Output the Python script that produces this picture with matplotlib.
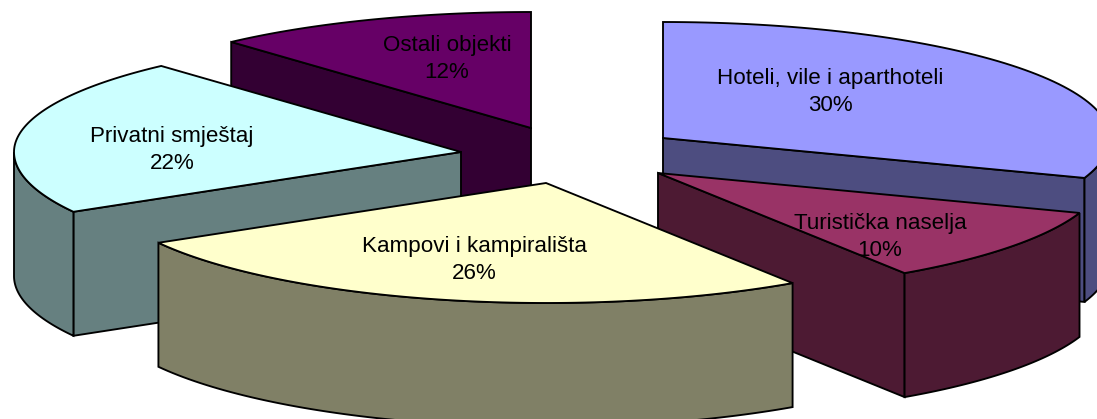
import numpy as np
import matplotlib
matplotlib.use("Agg")
import matplotlib.pyplot as plt
from matplotlib.patches import Polygon

plt.rcParams['font.family'] = ['Liberation Sans', 'DejaVu Sans']

labels = ['Hoteli, vile i aparthoteli', 'Turistička naselja', 'Kampovi i kampirališta',
          'Privatni smještaj', 'Ostali objekti']
shares = [30.4, 10.3, 26.0, 21.6, 11.7]

top_colors = ['#9999FF', '#993366', '#FFFFCC', '#CCFFFF', '#660066']
side_colors = ['#4D4D80', '#4D1A33', '#808066', '#668080', '#330033']

# where each exploded slice has its tip, in pixels
tips = [(663, 138), (658, 173), (546, 183), (461, 152), (531, 128)]
label_pos = [(830, 92), (880, 237), (474, 260), (172, 150), (447, 59)]
draw_order = [4, 0, 3, 1, 2]

RX = 447
RY_BACK, RY_FRONT = 116, 120  # near half of the ellipse looks a bit taller
DEPTH = 124


def rim(tip, a0, a1, n=80):
    t = np.radians(np.linspace(a0, a1, n))
    ry = np.where(np.cos(t) > 0, RY_BACK, RY_FRONT)
    return np.column_stack([tip[0] + RX * np.sin(t), tip[1] - ry * np.cos(t)])


def wall(ax, pts, color):
    low = pts[::-1] + [0, DEPTH]
    ax.add_patch(Polygon(np.vstack([pts, low]), closed=True, fc=color, ec='black', lw=1.35, joinstyle='miter'))


fig = plt.figure(figsize=(10.97, 4.19), dpi=100)
ax = fig.add_axes([0, 0, 1, 1])
ax.set_xlim(0, 1097)
ax.set_ylim(419, 0)
ax.axis('off')

ends = np.cumsum(shares) / np.sum(shares) * 360
starts = np.concatenate([[0], ends[:-1]])

for i in draw_order:
    tip = np.array(tips[i], float)
    a0, a1 = starts[i], ends[i]
    edge = rim(tip, a0, a1)

    # radial walls, only if they face the viewer
    if tip[0] > edge[0, 0] + 1:
        wall(ax, np.array([tip, edge[0]]), side_colors[i])
    if edge[-1, 0] > tip[0] + 1:
        wall(ax, np.array([edge[-1], tip]), side_colors[i])

    # outer wall is seen only on the front half of the ellipse
    v0, v1 = max(a0, 90), min(a1, 270)
    if v1 > v0:
        wall(ax, rim(tip, v0, v1), side_colors[i])

    ax.add_patch(Polygon(np.vstack([tip, edge]), closed=True, fc=top_colors[i], ec='black', lw=1.35, joinstyle='miter'))

for i in range(len(labels)):
    ax.text(label_pos[i][0], label_pos[i][1], f"{labels[i]}\n{shares[i]:.0f}%", ha='center', va='center',
            fontsize=16.1, color='black', linespacing=1.38, zorder=10)

fig.savefig('out.png', dpi=100)
